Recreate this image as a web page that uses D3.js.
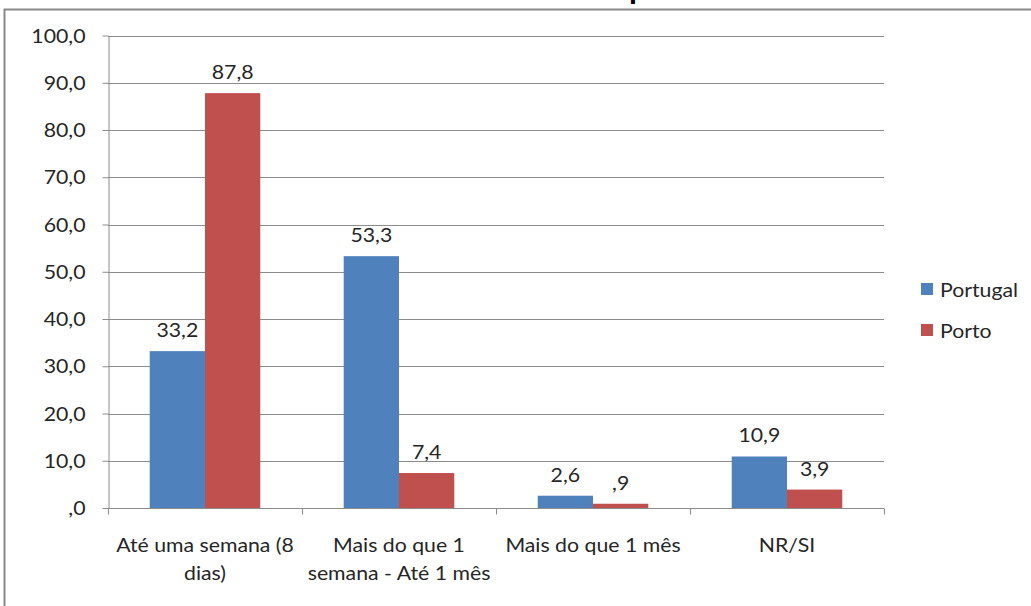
<!DOCTYPE html>
<html><head><meta charset="utf-8">
<script src="https://cdn.jsdelivr.net/npm/d3@7"></script>
<style>body{margin:0;background:#fff;}svg{display:block;font-family:Lato,"Open Sans",sans-serif;}</style>
</head><body><svg id="c" width="1031" height="606"></svg>
<script>
const categories = [["Até uma semana (8","dias)"],["Mais do que 1","semana - Até 1 mês"],["Mais do que 1 mês"],["NR/SI"]];
const seriesNames = ["Portugal","Porto"];
const portugal = [33.2, 53.3, 2.6, 10.9];
const porto = [87.8, 7.4, 0.9, 3.9];
const yTicks = [0,10,20,30,40,50,60,70,80,90,100];
const colors = ["#4F81BD","#C0504D"];
const fmt = v => { const s = v.toFixed(1).replace(".", ","); return s.startsWith("0,") ? s.slice(1) : s; };

const SX = 1.15, FS = 18.5, TXT = "#262626";
const svg = d3.select("#c");
const L = 108, R = 884, T = 35.5, B = 508;
// outer border
svg.append("path").attr("d","M4.5,606 V9.5 H1031").attr("fill","none").attr("stroke","#8a8a8a").attr("stroke-width",2);
// cut-off title (only a descender visible)
svg.append("text").attr("x",629).attr("y",-1.5).attr("font-size",32).attr("font-weight","bold").attr("fill","#000").text("p");

const y = d3.scaleLinear().domain([0,100]).range([B,T]);
const x0 = d3.scaleBand().domain(d3.range(categories.length)).range([L,R]).paddingInner(0.43).paddingOuter(0.215);
const x1 = d3.scaleBand().domain(d3.range(seriesNames.length)).range([0,x0.bandwidth()]);

// gridlines
svg.append("g").selectAll("line").data(yTicks.filter(d=>d>0)).join("line")
  .attr("x1",L).attr("x2",R).attr("y1",d=>Math.round(y(d))+0.5).attr("y2",d=>Math.round(y(d))+0.5)
  .attr("stroke","#8c8c8c").attr("stroke-width",1);

// y axis
const ya = svg.append("g").attr("transform",`translate(${L+0.5},0)`)
  .call(d3.axisLeft(y).tickValues(yTicks).tickFormat(fmt).tickSize(6).tickSizeOuter(0));
ya.select(".domain").attr("stroke","#8c8c8c");
ya.selectAll(".tick line").attr("stroke","#8c8c8c");
ya.selectAll(".tick text").attr("font-size",FS).attr("fill",TXT).attr("font-family","Lato,sans-serif")
  .attr("x",-23/SX).attr("dy","0.36em").attr("transform",`scale(${SX},1)`);

// bars
const data = categories.map((c,i)=>[portugal[i],porto[i]]);
const groups = svg.append("g").selectAll("g").data(data).join("g").attr("transform",(d,i)=>`translate(${x0(i)},0)`);
groups.selectAll("rect").data(d=>d).join("rect")
  .attr("x",(d,j)=>x1(j)).attr("width",x1.bandwidth()).attr("y",d=>y(d)).attr("height",d=>B-y(d))
  .attr("fill",(d,j)=>colors[j]);
groups.selectAll("text").data(d=>d).join("text")
  .attr("transform",(d,j)=>`translate(${x1(j)+x1.bandwidth()/2},${y(d)-14}) scale(${SX},1)`)
  .attr("text-anchor","middle").attr("font-size",FS).attr("fill",TXT).text(fmt);

// x axis
const xa = svg.append("g").attr("transform",`translate(0,${B+0.5})`);
xa.append("line").attr("x1",L).attr("x2",R).attr("stroke","#8c8c8c");
const step = x0.step();
xa.selectAll(".tk").data(d3.range(categories.length+1)).join("line").attr("class","tk")
  .attr("x1",i=>L+i*step+0.5).attr("x2",i=>L+i*step+0.5).attr("y1",0).attr("y2",6).attr("stroke","#8c8c8c");
const lbl = xa.selectAll(".cl").data(categories).join("text").attr("class","cl")
  .attr("transform",(c,i)=>`translate(${L+step*(i+0.5)},0) scale(${SX},1)`)
  .attr("text-anchor","middle").attr("font-size",FS).attr("fill",TXT);
lbl.each(function(c,i){
  d3.select(this).selectAll("tspan").data(c).join("tspan")
    .attr("x",0).attr("y",(d,k)=>43.5+k*28).text(d=>d);
});

// legend
const lg = svg.append("g").selectAll("g").data(seriesNames).join("g").attr("transform",(d,i)=>`translate(921,${283+i*41})`);
lg.append("rect").attr("width",12).attr("height",12).attr("fill",(d,i)=>colors[i]);
lg.append("text").attr("transform",`translate(19,13.5) scale(${SX},1)`).attr("font-size",FS).attr("fill",TXT).text(d=>d);
</script></body></html>
